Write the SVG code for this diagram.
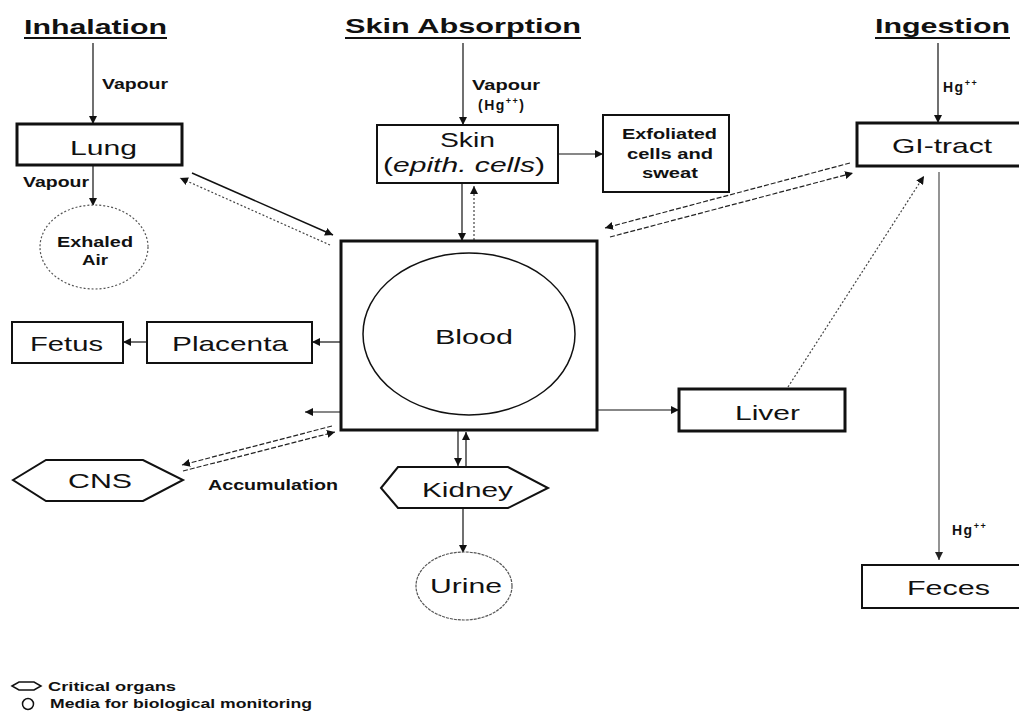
<svg xmlns="http://www.w3.org/2000/svg" width="1019" height="720" viewBox="0 0 1019 720">
<defs>
<marker id="ah" viewBox="0 0 10 10" refX="10" refY="5" markerWidth="8" markerHeight="8" markerUnits="userSpaceOnUse" orient="auto"><path d="M0,0 L10,5 L0,10 z" fill="#111"/></marker>
<marker id="ahg" viewBox="0 0 10 10" refX="10" refY="5" markerWidth="8" markerHeight="8" markerUnits="userSpaceOnUse" orient="auto"><path d="M0,0 L10,5 L0,10 z" fill="#222"/></marker>
</defs>
<style>
text{font-family:"Liberation Sans",Arial,sans-serif;fill:#111}
.title{font-size:21px;font-weight:bold}
.lbl{font-size:21px}
.sm{font-size:14px;font-weight:bold}
.leg{font-size:12px;font-weight:bold}
.box{fill:#fff;stroke:#111;stroke-width:2}
.thick{stroke-width:3}
.c{stroke:#111;stroke-width:1.2;fill:none}
.dot{stroke:#444;stroke-width:1.2;stroke-dasharray:2,2;fill:none}
.dash{stroke:#222;stroke-width:1.2;stroke-dasharray:5,2;fill:none}
</style>
<rect width="1019" height="720" fill="#fff"/>

<g id="titles">
<text class="title" x="24" y="34" textLength="143" lengthAdjust="spacingAndGlyphs">Inhalation</text>
<line x1="24" y1="38" x2="167" y2="38" stroke="#111" stroke-width="2"/>
<text class="title" x="345" y="33" textLength="236" lengthAdjust="spacingAndGlyphs">Skin Absorption</text>
<line x1="345" y1="38" x2="581" y2="38" stroke="#111" stroke-width="2"/>
<text class="title" x="875" y="33" textLength="135" lengthAdjust="spacingAndGlyphs">Ingestion</text>
<line x1="875" y1="38" x2="1010" y2="38" stroke="#111" stroke-width="2"/>
</g>

<g id="connectors">
<line class="c" x1="93" y1="43" x2="93" y2="124" marker-end="url(#ah)"/>
<line class="c" x1="93" y1="166" x2="93" y2="206" marker-end="url(#ah)"/>
<line class="c" x1="463" y1="43" x2="463" y2="125" marker-end="url(#ah)"/>
<line class="c" x1="462" y1="184" x2="462" y2="241" marker-end="url(#ah)"/>
<line class="dot" x1="474" y1="240" x2="474" y2="186" marker-end="url(#ah)"/>
<line class="c" x1="558" y1="154" x2="603" y2="154" marker-end="url(#ah)"/>
<line class="c" x1="938" y1="43" x2="938" y2="123" marker-end="url(#ah)"/>
<line x1="939" y1="172" x2="939" y2="560" stroke="#888" stroke-width="1.8" marker-end="url(#ahg)"/>
<line class="dot" x1="788" y1="387" x2="924" y2="176" marker-end="url(#ah)"/>
<line class="c" x1="597" y1="410" x2="679" y2="410" marker-end="url(#ah)"/>
<line class="c" x1="341" y1="342" x2="312" y2="342" marker-end="url(#ah)"/>
<line class="c" x1="147" y1="342" x2="123" y2="342" marker-end="url(#ah)"/>
<line class="c" x1="341" y1="412" x2="305" y2="412" marker-end="url(#ah)"/>
<line class="dash" x1="332" y1="426" x2="182" y2="465" marker-end="url(#ah)"/>
<line class="dash" x1="183" y1="471" x2="335" y2="432" marker-end="url(#ah)"/>
<line class="c" x1="458" y1="430" x2="458" y2="466" marker-end="url(#ah)"/>
<line class="c" x1="466" y1="467" x2="466" y2="432" marker-end="url(#ah)"/>
<line class="c" x1="463" y1="508" x2="463" y2="553" marker-end="url(#ah)"/>
<line class="dash" x1="850" y1="163" x2="605" y2="228" marker-end="url(#ah)"/>
<line class="dash" x1="610" y1="237" x2="853" y2="173" marker-end="url(#ah)"/>
<line x1="192" y1="173" x2="333" y2="235" stroke="#111" stroke-width="1.5" marker-end="url(#ah)"/>
<line class="dot" x1="330" y1="245" x2="180" y2="178" marker-end="url(#ah)"/>
<text class="sm" x="102" y="89" textLength="66" lengthAdjust="spacingAndGlyphs">Vapour</text>
<text class="sm" x="23" y="187" textLength="66" lengthAdjust="spacingAndGlyphs">Vapour</text>
<text class="sm" x="472" y="90" textLength="68" lengthAdjust="spacingAndGlyphs">Vapour</text>
<text class="sm" x="478" y="110" letter-spacing="1.5">(Hg<tspan dy="-6" font-size="9">++</tspan><tspan dy="6">)</tspan></text>
<text class="sm" x="943" y="92" letter-spacing="1.5">Hg<tspan dy="-6" font-size="9">++</tspan></text>
<text class="sm" x="952" y="535" letter-spacing="1.5">Hg<tspan dy="-6" font-size="9">++</tspan></text>
<text class="sm" x="208" y="490" textLength="130" lengthAdjust="spacingAndGlyphs">Accumulation</text>
</g>

<g id="lung">
<rect class="box thick" x="17" y="124" width="165" height="41"/>
<text class="lbl" x="70" y="155" textLength="67" lengthAdjust="spacingAndGlyphs">Lung</text>
</g>

<g id="exhaled-air">
<ellipse cx="94" cy="247" rx="54" ry="42" fill="#fff" stroke="#555" stroke-width="1.2" stroke-dasharray="2,2"/>
<text class="sm" x="57" y="247" textLength="76" lengthAdjust="spacingAndGlyphs" fill="#333">Exhaled</text>
<text class="sm" x="82" y="265" textLength="26" lengthAdjust="spacingAndGlyphs">Air</text>
</g>

<g id="skin">
<rect class="box" x="377" y="125" width="181" height="58"/>
<text class="lbl" x="440" y="147" textLength="55" lengthAdjust="spacingAndGlyphs">Skin</text>
<text class="lbl" x="383" y="172" textLength="162" lengthAdjust="spacingAndGlyphs">(<tspan font-style="italic">epith. cells</tspan>)</text>
</g>

<g id="exfoliated">
<rect class="box" x="603" y="115" width="126" height="77"/>
<text class="sm" x="622" y="139" textLength="95" lengthAdjust="spacingAndGlyphs">Exfoliated</text>
<text class="sm" x="627" y="159" textLength="86" lengthAdjust="spacingAndGlyphs">cells and</text>
<text class="sm" x="642" y="178" textLength="56" lengthAdjust="spacingAndGlyphs">sweat</text>
</g>

<g id="gi-tract">
<rect class="box thick" x="857" y="123" width="166" height="43"/>
<text class="lbl" x="892" y="153" textLength="100" lengthAdjust="spacingAndGlyphs">GI-tract</text>
</g>

<g id="blood">
<rect class="box thick" x="341" y="241" width="256" height="189"/>
<ellipse cx="469" cy="334" rx="106" ry="81" fill="#fff" stroke="#111" stroke-width="1.5"/>
<text class="lbl" x="435" y="344" textLength="78" lengthAdjust="spacingAndGlyphs">Blood</text>
</g>

<g id="placenta">
<rect class="box" x="147" y="322" width="165" height="41"/>
<text class="lbl" x="172" y="351" textLength="116" lengthAdjust="spacingAndGlyphs">Placenta</text>
</g>

<g id="fetus">
<rect class="box" x="12" y="322" width="111" height="41"/>
<text class="lbl" x="30" y="351" textLength="73" lengthAdjust="spacingAndGlyphs">Fetus</text>
</g>

<g id="liver">
<rect class="box thick" x="679" y="389" width="166" height="42"/>
<text class="lbl" x="735" y="420" textLength="65" lengthAdjust="spacingAndGlyphs">Liver</text>
</g>

<g id="cns">
<polygon class="box" points="13,480 46,460 143,460 183,480 143,501 46,501"/>
<text class="lbl" x="68" y="488" textLength="64" lengthAdjust="spacingAndGlyphs">CNS</text>
</g>

<g id="kidney">
<polygon class="box" points="381,488 398,467 508,467 548,488 508,508 398,508"/>
<text class="lbl" x="422" y="497" textLength="91" lengthAdjust="spacingAndGlyphs">Kidney</text>
</g>

<g id="urine">
<ellipse cx="464" cy="586" rx="48" ry="34" fill="#fff" stroke="#555" stroke-width="1.2" stroke-dasharray="3,1"/>
<text class="lbl" x="430" y="593" textLength="72" lengthAdjust="spacingAndGlyphs">Urine</text>
</g>

<g id="feces">
<rect class="box" x="862" y="565" width="160" height="43"/>
<text class="lbl" x="907" y="595" textLength="83" lengthAdjust="spacingAndGlyphs">Feces</text>
</g>

<g id="legend">
<polygon points="12,686 19,682 34,682 41,686 34,690 19,690" fill="none" stroke="#111" stroke-width="1.5"/>
<text class="leg" x="48" y="691" textLength="128" lengthAdjust="spacingAndGlyphs">Critical organs</text>
<circle cx="28" cy="704" r="5.5" fill="none" stroke="#111" stroke-width="1.5"/>
<text class="leg" x="50" y="708" textLength="262" lengthAdjust="spacingAndGlyphs">Media for biological monitoring</text>
</g>
</svg>
